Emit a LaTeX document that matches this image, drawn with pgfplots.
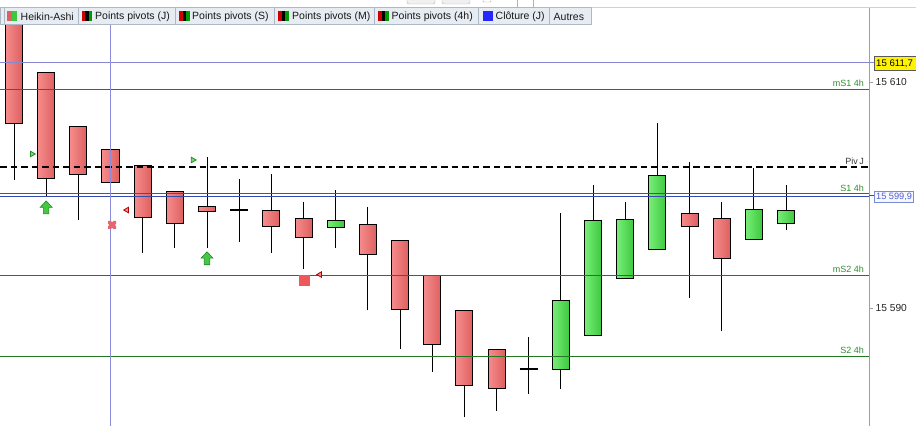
\documentclass[border=0pt]{standalone}
\usepackage{fontspec}
\setmainfont{Liberation Sans}
\usepackage{pgfplots}
\pgfplotsset{compat=1.18}
\definecolor{pivgreen}{RGB}{35,120,35}
\definecolor{lblgreen}{RGB}{50,140,50}
\definecolor{hablue}{RGB}{135,135,210}
\definecolor{cloblue}{RGB}{55,75,175}
\definecolor{vblue}{RGB}{140,140,220}
\definecolor{redL}{RGB}{246,140,140}
\definecolor{redR}{RGB}{222,96,96}
\definecolor{grnL}{RGB}{120,238,120}
\definecolor{grnR}{RGB}{62,200,62}
\definecolor{tabfill}{RGB}{230,236,242}
\definecolor{tabdraw}{RGB}{172,184,196}
\definecolor{arrgr}{RGB}{70,200,70}
\definecolor{arrdk}{RGB}{30,140,30}
\definecolor{xred}{RGB}{232,100,110}
\definecolor{sqred}{RGB}{238,88,88}
\definecolor{boxblue}{RGB}{120,140,210}
\definecolor{txtblue}{RGB}{80,95,210}

\pgfdeclareplotmark{uparrow}{%
  \pgfpathmoveto{\pgfqpoint{0pt}{\pgfplotmarksize}}%
  \pgfpathlineto{\pgfqpoint{0.92\pgfplotmarksize}{0.02\pgfplotmarksize}}%
  \pgfpathlineto{\pgfqpoint{0.42\pgfplotmarksize}{0.02\pgfplotmarksize}}%
  \pgfpathlineto{\pgfqpoint{0.42\pgfplotmarksize}{-\pgfplotmarksize}}%
  \pgfpathlineto{\pgfqpoint{-0.42\pgfplotmarksize}{-\pgfplotmarksize}}%
  \pgfpathlineto{\pgfqpoint{-0.42\pgfplotmarksize}{0.02\pgfplotmarksize}}%
  \pgfpathlineto{\pgfqpoint{-0.92\pgfplotmarksize}{0.02\pgfplotmarksize}}%
  \pgfpathclose
  \pgfusepathqfillstroke}

% #1 position, #2 left edge, #3 right edge, #4 low, #5 body bottom, #6 body top, #7 high, #8/#9 colours
\newcommand\candle[9]{%
  \addplot[black, line width=1pt] coordinates {(#1,#4) (#1,#7)};
  \addplot[draw=black, line width=1pt, left color=#8, right color=#9]
    coordinates {(#2,#5) (#3,#5) (#3,#6) (#2,#6)} -- cycle;}
% #1 position, #2 left, #3 right, #4 low, #5 open=close, #6 high
\newcommand\doji[6]{%
  \addplot[black, line width=1pt] coordinates {(#1,#4) (#1,#6)};
  \addplot[black, line width=1.8pt] coordinates {(#2,#5) (#3,#5)};}

\begin{document}
\begin{tikzpicture}
\useasboundingbox (0,0) rectangle (916pt,426pt);
\begin{axis}[at={(0,0)}, anchor=south west, scale only axis,
  width=869pt, height=419pt,
  xmin=0.5648, xmax=27.578, ymin=15579.558, ymax=15616.637,
  axis x line=none, axis y line*=right,
  y axis line style={draw=gray!75, line width=0.8pt},
  ytick={15590,15610}, yticklabels={15 590,15 610},
  ytick pos=right, tick align=outside, major tick length=4pt,
  tick style={draw=gray!75, line width=0.8pt},
  yticklabel style={font=\fontsize{10.2}{12}\selectfont, text=black!85, anchor=west, inner sep=0pt, xshift=2.5pt},
  clip=true]
% candles
\candle{1}{0.735}{1.265}{15601.3}{15606.3}{15615.6}{15615.6}{redL}{redR}
\candle{2}{1.735}{2.265}{15599.9}{15601.5}{15610.8}{15610.8}{redL}{redR}
\candle{3}{2.735}{3.265}{15597.8}{15601.8}{15606.1}{15606.1}{redL}{redR}
\candle{4}{3.735}{4.265}{15601.15}{15601.15}{15604.0}{15604.0}{redL}{redR}
\candle{5}{4.735}{5.265}{15594.9}{15598.05}{15602.65}{15602.65}{redL}{redR}
\candle{6}{5.735}{6.265}{15595.3}{15597.5}{15600.35}{15600.35}{redL}{redR}
\candle{7}{6.735}{7.265}{15595.3}{15598.5}{15598.95}{15603.35}{redL}{redR}
\doji{8}{7.72}{8.28}{15595.85}{15598.65}{15601.4}
\candle{9}{8.735}{9.265}{15594.9}{15597.25}{15598.65}{15601.85}{redL}{redR}
\candle{10}{9.735}{10.265}{15593.45}{15596.2}{15597.95}{15599.4}{redL}{redR}
\candle{11}{10.735}{11.265}{15595.3}{15597.1}{15597.7}{15600.45}{grnL}{grnR}
\candle{12}{11.735}{12.265}{15589.8}{15594.7}{15597.35}{15598.95}{redL}{redR}
\candle{13}{12.735}{13.265}{15586.4}{15589.9}{15596.0}{15596.0}{redL}{redR}
\candle{14}{13.735}{14.265}{15584.35}{15586.75}{15592.9}{15592.9}{redL}{redR}
\candle{15}{14.735}{15.265}{15580.35}{15583.1}{15589.75}{15589.75}{redL}{redR}
\candle{16}{15.735}{16.265}{15580.9}{15582.85}{15586.35}{15586.35}{redL}{redR}
\doji{17}{16.72}{17.28}{15582.4}{15584.6}{15587.45}
\candle{18}{17.735}{18.265}{15582.85}{15584.6}{15590.7}{15598.4}{grnL}{grnR}
\candle{19}{18.735}{19.265}{15587.6}{15587.6}{15597.7}{15600.9}{grnL}{grnR}
\candle{20}{19.735}{20.265}{15592.65}{15592.65}{15597.8}{15599.4}{grnL}{grnR}
\candle{21}{20.735}{21.265}{15595.2}{15595.2}{15601.7}{15606.35}{grnL}{grnR}
\candle{22}{21.735}{22.265}{15590.9}{15597.25}{15598.4}{15602.9}{redL}{redR}
\candle{23}{22.735}{23.265}{15587.95}{15594.35}{15597.9}{15599.4}{redL}{redR}
\candle{24}{23.735}{24.265}{15596.1}{15596.1}{15598.75}{15602.4}{grnL}{grnR}
\candle{25}{24.735}{25.265}{15596.9}{15597.45}{15598.65}{15600.9}{grnL}{grnR}
% level lines
\addplot[hablue, line width=1pt] coordinates {(0.5648,15611.7) (27.578,15611.7)};
\addplot[pivgreen, line width=1pt] coordinates {(0.5648,15609.38) (27.578,15609.38)};
\addplot[black, line width=2pt, dash pattern=on 6.5pt off 4pt] coordinates {(0.5648,15602.48) (27.578,15602.48)};
\addplot[pivgreen, line width=1pt] coordinates {(0.5648,15600.12) (27.578,15600.12)};
\addplot[cloblue, line width=1pt] coordinates {(0.5648,15599.9) (27.578,15599.9)};
\addplot[pivgreen, line width=1pt] coordinates {(0.5648,15592.92) (27.578,15592.92)};
\addplot[pivgreen, line width=1pt] coordinates {(0.5648,15585.75) (27.578,15585.75)};
\addplot[vblue, line width=1pt] coordinates {(4.0,15579.558) (4.0,15616.637)};
% markers
\addplot[only marks, mark=uparrow, mark size=6.5pt, mark options={draw=arrdk, fill=arrgr, line width=0.6pt}] coordinates {(2.0,15598.9) (7.0,15594.4)};
\addplot[only marks, mark=x, mark size=3.8pt, mark options={draw=xred, line width=3.8pt, line cap=round}] coordinates {(4.05,15597.35)};
\addplot[only marks, mark=triangle*, mark size=3.2pt, mark options={rotate=-90, draw=arrdk, fill=arrgr!70!white, line width=0.8pt}] coordinates {(1.56,15603.63) (6.56,15603.1)};
\addplot[only marks, mark=triangle*, mark size=3.2pt, mark options={rotate=90, draw=red!70!black, fill=redL, line width=0.8pt}] coordinates {(4.51,15598.67) (10.51,15592.96)};
\addplot[only marks, mark=square*, mark size=5pt, mark options={draw=sqred, fill=sqred}] coordinates {(10.03,15592.43)};
% level labels
\begin{scope}[every node/.style={font=\fontsize{9}{10}\selectfont, inner sep=0pt, anchor=base east, xshift=-5pt}]
\node[text=lblgreen, yshift=3pt] at (axis cs:27.578,15609.38) {mS1 4h};
\node[text=black!80, yshift=2.5pt] at (axis cs:27.578,15602.48) {Piv\,J};
\node[text=lblgreen, yshift=2.5pt] at (axis cs:27.578,15600.12) {S1 4h};
\node[text=lblgreen, yshift=2.5pt] at (axis cs:27.578,15592.92) {mS2 4h};
\node[text=lblgreen, yshift=2.5pt] at (axis cs:27.578,15585.75) {S2 4h};
\end{scope}
\end{axis}
\begin{scope}[x=1pt,y=-1pt,shift={(0pt,426pt)}]
% top border and toolbar stubs
\draw[gray!35, line width=0.8pt] (0,7) -- (916,7);
\draw[gray!60, fill=gray!12, rounded corners=2pt] (407,-8) rectangle (435,4);
\draw[gray!60, fill=gray!12, rounded corners=2pt] (442,-8) rectangle (470,4);
\draw[gray!60, fill=white, rounded corners=1pt] (483,-6) rectangle (491,2);
\draw[gray!60, fill=white] (517,-6) rectangle (533,7);
% right-side value boxes
\draw[hablue, line width=1pt] (869,63) -- (874,63);
\draw[gray!70!black, fill=yellow, line width=0.6pt] (874,56.5) rectangle (922,70.5);
\node[anchor=west, inner sep=0pt, font=\fontsize{9.6}{11}\selectfont] at (876,64) {15 611,7};
\draw[cloblue, line width=1pt] (869,196) -- (874,196);
\draw[boxblue, fill=blue!3, line width=0.6pt] (874,191) rectangle (913.5,202);
\node[anchor=west, inner sep=0pt, text=txtblue, font=\fontsize{9.2}{11}\selectfont] at (876,196.6) {15 599,9};
% legend tabs
\foreach \a/\b in {0/4, 4/78.5, 78.5/175, 175/274.8, 274.8/374.3, 374.3/478.4, 478.4/549, 549/591.3}
  \draw[tabdraw, fill=tabfill, line width=0.8pt] (\a,7) rectangle (\b,24);
\fill[redR] (7,11) rectangle (12,21);
\fill[grnR] (12,11) rectangle (17,21);
\foreach \s in {81.5, 179, 278, 378}{
  \fill[red!80!black] (\s,11) rectangle (\s+3.5,21);
  \fill[black] (\s+3.5,11) rectangle (\s+7,21);
  \fill[green!60!black] (\s+7,11) rectangle (\s+10.5,21);
}
\fill[blue!85!white] (483,11) rectangle (493,21);
\begin{scope}[every node/.style={anchor=west, inner sep=0pt, font=\fontsize{10.5}{12}\selectfont, text=black!90}]
\node at (20.5,16.5) {Heikin-Ashi};
\node at (95,16.5) {Points pivots (J)};
\node at (192,16.5) {Points pivots (S)};
\node at (292,16.5) {Points pivots (M)};
\node at (391.5,16.5) {Points pivots (4h)};
\node at (495.5,16.5) {Clôture (J)};
\node at (553.5,16.5) {Autres};
\end{scope}
\end{scope}
\end{tikzpicture}
\end{document}
